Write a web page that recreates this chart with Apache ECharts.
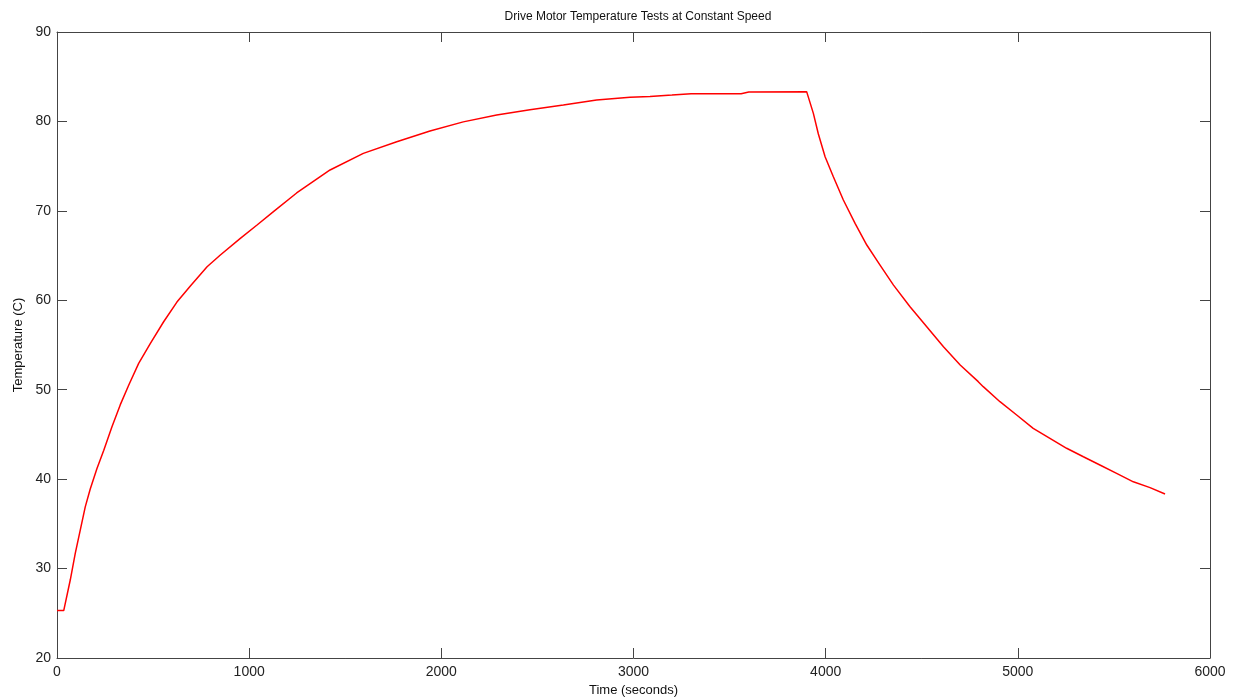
<!DOCTYPE html>
<html>
<head>
<meta charset="utf-8">
<script src="https://cdn.jsdelivr.net/npm/echarts@6/dist/echarts.min.js"></script>
<style>
  html, body { margin: 0; padding: 0; background: #fff; }
  #chart { width: 1233px; height: 700px; }
</style>
</head>
<body>
<div id="chart"></div>
<script>
// time in seconds, temperature in C
const timeSec = [0, 35, 69, 95, 121, 147, 173, 208, 243, 286, 329, 373, 425, 486, 555, 624, 694, 781, 850, 954, 1041, 1128, 1247, 1421, 1594, 1768, 1941, 2114, 2288, 2461, 2635, 2808, 2982, 3086, 3200, 3300, 3560, 3600, 3901, 3936, 3962, 3997, 4040, 4092, 4153, 4214, 4283, 4353, 4439, 4526, 4613, 4700, 4794, 4820, 4907, 4994, 5080, 5167, 5254, 5341, 5427, 5514, 5601, 5688, 5766];
const tempC = [25.3, 25.3, 28.72, 31.7, 34.3, 36.9, 38.9, 41.2, 43.2, 45.86, 48.3, 50.5, 52.95, 55.19, 57.6, 59.8, 61.6, 63.75, 65.06, 66.93, 68.42, 69.95, 72.0, 74.57, 76.43, 77.73, 78.93, 79.95, 80.72, 81.3, 81.85, 82.4, 82.7, 82.8, 82.95, 83.1, 83.1, 83.3, 83.33, 80.9, 78.6, 76.06, 73.82, 71.21, 68.6, 66.18, 63.94, 61.7, 59.28, 57.05, 54.81, 52.76, 50.9, 50.34, 48.66, 47.17, 45.68, 44.57, 43.45, 42.5, 41.58, 40.65, 39.7, 39.05, 38.34];

const FONT = '"Liberation Sans", Arial, sans-serif';
const lineCol = '#444';

const chart = echarts.init(document.getElementById('chart'));

const points = timeSec.map((t, i) => [t, tempC[i]]);

const baseAxis = {
  axisLine: { show: true, onZero: false, lineStyle: { color: lineCol, width: 1 } },
  axisTick: { show: true, inside: true, length: 10, lineStyle: { color: lineCol } },
  splitLine: { show: false }
};

chart.setOption({
  animation: false,
  backgroundColor: '#fff',
  title: {
    text: 'Drive Motor Temperature Tests at Constant Speed',
    left: 633, top: 6, textAlign: 'center',
    textStyle: { fontFamily: FONT, fontSize: 12, fontWeight: 'normal', color: '#111' }
  },
  grid: { left: 57, right: 23, top: 32, bottom: 42, containLabel: false, outerBoundsMode: 'none' },
  xAxis: [
    Object.assign({}, baseAxis, {
      type: 'value', min: 0, max: 6000, interval: 1000, position: 'bottom',
      name: 'Time (seconds)', nameLocation: 'middle', nameGap: 26,
      nameTextStyle: { fontFamily: FONT, fontSize: 13, color: '#111' },
      axisLabel: { fontFamily: FONT, fontSize: 14, color: '#222', margin: 7, formatter: v => String(v) }
    }),
    Object.assign({}, baseAxis, {
      type: 'value', min: 0, max: 6000, interval: 1000, position: 'top',
      axisLabel: { show: false }
    })
  ],
  yAxis: [
    Object.assign({}, baseAxis, {
      type: 'value', min: 20, max: 90, interval: 10, position: 'left',
      name: 'Temperature (C)', nameLocation: 'middle', nameGap: 32,
      nameTextStyle: { fontFamily: FONT, fontSize: 13, color: '#111' },
      axisLabel: { fontFamily: FONT, fontSize: 14, color: '#222', margin: 6 }
    }),
    Object.assign({}, baseAxis, {
      type: 'value', min: 20, max: 90, interval: 10, position: 'right',
      axisLabel: { show: false }
    })
  ],
  series: [{
    type: 'line',
    data: points,
    xAxisIndex: 0, yAxisIndex: 0,
    showSymbol: false,
    smooth: false,
    lineStyle: { color: '#ff0000', width: 1.5 }
  }]
});
</script>
</body>
</html>
